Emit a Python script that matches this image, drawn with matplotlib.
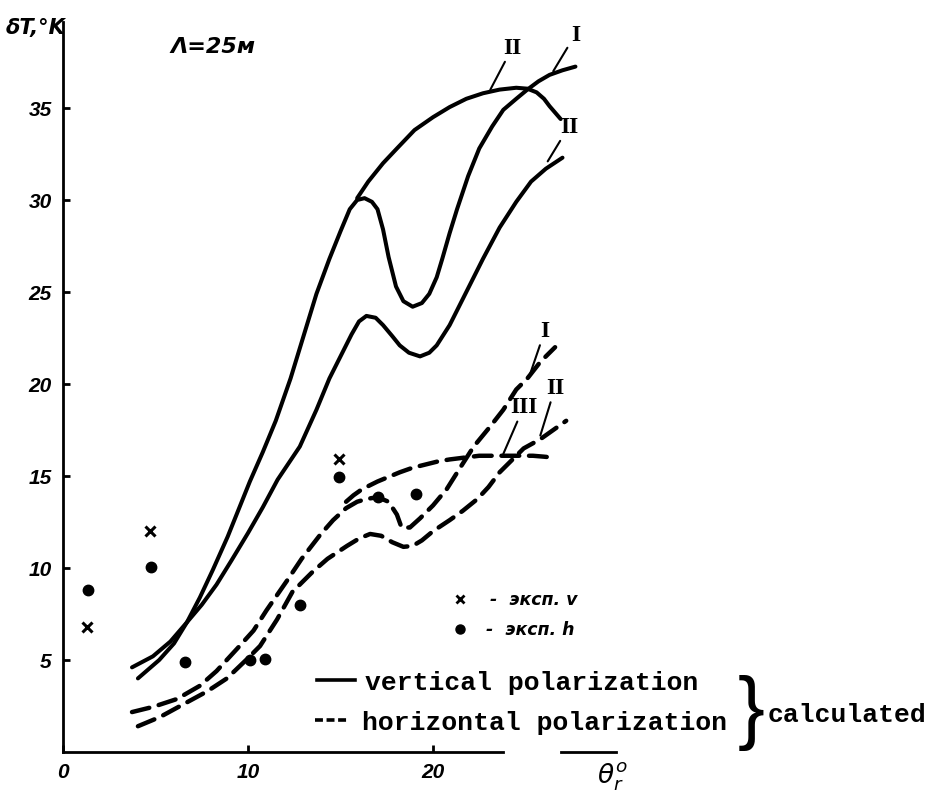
import matplotlib
matplotlib.use("Agg")
import matplotlib.pyplot as plt
from matplotlib.lines import Line2D

# ---------------- data ----------------
# solid curves: vertical polarization
vI_x = [4.05, 5.2, 6.0, 6.7, 7.4, 8.1, 8.9, 9.5, 10.1, 10.8, 11.5, 12.3, 13.0, 13.7,
        14.4, 15.0, 15.5, 15.9, 16.3, 16.7, 17.0, 17.3, 17.6, 18.0, 18.4, 18.9, 19.4,
        19.8, 20.2, 20.5, 20.9, 21.3, 21.9, 22.5, 23.2, 23.8, 24.5, 25.1, 25.7, 26.3,
        27.0, 27.7]
vI_y = [4.0, 5.0, 5.9, 7.05, 8.4, 9.9, 11.7, 13.2, 14.7, 16.3, 18.0, 20.3, 22.6, 24.9,
        26.8, 28.3, 29.5, 30.0, 30.1, 29.9, 29.5, 28.4, 26.9, 25.3, 24.5, 24.2, 24.4,
        24.9, 25.8, 26.8, 28.2, 29.5, 31.3, 32.8, 34.0, 34.9, 35.5, 36.0, 36.45, 36.8,
        37.05, 37.25]

vIIa_x = [15.9, 16.5, 17.3, 18.05, 19.0, 20.0, 20.9, 21.8, 22.7, 23.6, 24.5, 25.1,
          25.6, 26.0, 26.3, 26.6, 26.9]
vIIa_y = [30.1, 31.0, 32.0, 32.8, 33.8, 34.5, 35.05, 35.5, 35.8, 36.0, 36.1, 36.05,
          35.85, 35.5, 35.1, 34.75, 34.4]

vIIb_x = [3.73, 4.86, 5.8, 6.7, 7.5, 8.3, 9.1, 10.0, 10.8, 11.6, 12.2, 12.8, 13.7,
          14.4, 15.0, 15.6, 16.0, 16.4, 16.9, 17.3, 17.8, 18.2, 18.7, 19.3, 19.8,
          20.2, 20.9, 21.8, 22.7, 23.6, 24.5, 25.3, 26.1, 27.0]
vIIb_y = [4.6, 5.2, 6.0, 7.05, 8.0, 9.1, 10.4, 11.9, 13.3, 14.8, 15.7, 16.6, 18.6,
          20.3, 21.5, 22.7, 23.4, 23.7, 23.6, 23.2, 22.6, 22.1, 21.7, 21.5, 21.7,
          22.1, 23.2, 25.0, 26.8, 28.5, 29.9, 31.0, 31.7, 32.3]

# dashed curves: horizontal polarization
hI_x = [3.73, 4.86, 6.16, 7.4, 8.3, 9.4, 10.3, 11.0, 12.1, 12.9, 13.9, 14.6, 15.3,
        15.9, 16.4, 17.0, 17.6, 18.05, 18.3, 18.75, 19.3, 20.0, 20.75, 21.5, 22.2,
        23.1, 23.8, 24.5, 25.1, 25.8, 26.6]
hI_y = [2.17, 2.45, 2.88, 3.6, 4.4, 5.6, 6.6, 7.7, 9.3, 10.5, 11.8, 12.6, 13.25,
        13.6, 13.75, 13.85, 13.6, 12.9, 12.2, 12.2, 12.7, 13.4, 14.3, 15.5, 16.6,
        17.7, 18.6, 19.7, 20.3, 21.2, 22.0]

hII_x = [4.05, 5.24, 6.7, 7.8, 8.86, 9.95, 10.65, 11.57, 12.4, 13.5, 14.3, 15.35,
         16.0, 16.6, 17.2, 17.8, 18.4, 18.9, 19.4, 20.0, 20.9, 21.6, 22.4, 23.0,
         23.6, 24.3, 24.9, 25.8, 26.5, 27.2]
hII_y = [1.4, 1.9, 2.7, 3.3, 4.0, 5.05, 5.76, 7.2, 8.7, 9.8, 10.5, 11.2,
         11.6, 11.85, 11.75, 11.4, 11.15, 11.2, 11.5, 12.0, 12.6, 13.1, 13.75, 14.4,
         15.2, 15.9, 16.5, 17.0, 17.5, 18.0]

hIII_x = [15.3, 15.7, 16.05, 16.5, 17.0, 17.6, 18.2, 18.9, 19.7, 20.3, 20.9, 21.7,
          22.5, 23.2, 24.0, 24.7, 25.4, 26.0, 26.5]
hIII_y = [13.6, 13.95, 14.2, 14.45, 14.7, 14.95, 15.2, 15.45, 15.65, 15.8, 15.9, 16.0,
          16.1, 16.1, 16.1, 16.1, 16.1, 16.05, 16.0]

# experimental points
exp_v_x = [1.3, 4.7, 14.9]
exp_v_y = [6.8, 12.0, 15.9]
exp_h_x = [1.35, 4.75, 6.6, 10.1, 10.9, 12.8, 14.9, 17.0, 19.1]
exp_h_y = [8.8, 10.05, 4.9, 5.0, 5.05, 8.0, 14.95, 13.85, 14.0]

# curve labels: (text, label position, point on curve)
curve_labels = [
    ("II", (24.3, 38.3), (23.1, 36.0)),
    ("I", (27.7, 39.0), (26.5, 37.0)),
    ("II", (27.35, 34.0), (26.2, 32.1)),
    ("I", (26.05, 22.9), (25.2, 20.4)),
    ("III", (24.9, 18.75), (23.8, 16.2)),
    ("II", (26.6, 19.8), (25.8, 17.2)),
]

x_ticks = [0, 10, 20]
y_ticks = [5, 10, 15, 20, 25, 30, 35]

# ---------------- figure ----------------
W, H = 937, 803
fig = plt.figure(figsize=(W / 100, H / 100), dpi=100)
fig.patch.set_facecolor("white")

def fx(px):
    return px / W

def fy(py):
    return 1 - py / H

ax = fig.add_axes([fx(63), fy(753), fx(581) - fx(63), fy(17) - fy(753)])
ax.set_xlim(0, 28)
ax.set_ylim(0, 40)

lw = 2.9
solid_kw = dict(color="black", lw=lw, solid_capstyle="round", solid_joinstyle="round")
dash_kw = dict(color="black", lw=lw + 0.3, linestyle=(0, (4.0, 2.2)), dash_capstyle="round")

ax.plot(vI_x, vI_y, **solid_kw)
ax.plot(vIIa_x, vIIa_y, **solid_kw)
ax.plot(vIIb_x, vIIb_y, **solid_kw)
ax.plot(hI_x, hI_y, **dash_kw)
ax.plot(hII_x, hII_y, **dash_kw)
ax.plot(hIII_x, hIII_y, **dash_kw)

ax.plot(exp_v_x, exp_v_y, linestyle="none", marker="x", ms=6.5, mew=2.2, color="black")
ax.plot(exp_h_x, exp_h_y, linestyle="none", marker="o", ms=7.5, color="black")

for txt, tpos, cpos in curve_labels:
    ax.annotate(txt, xy=cpos, xytext=tpos, ha="center", va="center",
                fontsize=17, fontweight="bold", family="Liberation Serif",
                annotation_clip=False,
                arrowprops=dict(arrowstyle="-", lw=1.5, color="black",
                                shrinkA=1, shrinkB=0))

# axes styling
for s in ("top", "right"):
    ax.spines[s].set_visible(False)
for s in ("left", "bottom"):
    ax.spines[s].set_linewidth(2.0)
ax.spines["left"].set_bounds(0, 39.7)
ax.spines["bottom"].set_bounds(0, 23.8)

ax.set_xticks(x_ticks)
ax.set_xticklabels([str(v) for v in x_ticks])
ax.set_yticks(y_ticks)
ax.set_yticklabels([str(v) for v in y_ticks])
ax.tick_params(axis="both", direction="in", length=5, width=2.0, labelsize=15)
ax.tick_params(axis="y", pad=8)
ax.tick_params(axis="x", pad=7)
for lab in ax.get_xticklabels() + ax.get_yticklabels():
    lab.set_fontweight("bold")
    lab.set_fontstyle("italic")
    lab.set_family("Liberation Sans")

# short axis piece near the theta label
ax.plot([26.9, 29.9], [0, 0], color="black", lw=2.0, clip_on=False)

# texts
ital = dict(fontweight="bold", fontstyle="italic", family="DejaVu Sans")
fig.text(fx(36), fy(28), "δT,°K", ha="center", va="center", fontsize=15, **ital)
fig.text(fx(213), fy(47), "Λ=25м", ha="center", va="center", fontsize=16, **ital)
fig.text(fx(612), fy(777), r"$\theta^{o}_{r}$", ha="center", va="center", fontsize=19)

# experimental legend
fig.add_artist(Line2D([fx(460)], [fy(600)], marker="x", ms=5.5, mew=2.0,
                      color="black", transform=fig.transFigure))
fig.add_artist(Line2D([fx(460)], [fy(630)], marker="o", ms=6.5,
                      color="black", transform=fig.transFigure))
fig.text(fx(490), fy(600), "-  эксп. v", ha="left", va="center", fontsize=12.5, **ital)
fig.text(fx(486), fy(630), "-  эксп. h", ha="left", va="center", fontsize=12.5, **ital)

# calculated legend
mono = dict(family="Liberation Mono", fontweight="bold", fontsize=19)
fig.add_artist(Line2D([fx(317), fx(355)], [fy(681), fy(681)], lw=2.6,
                      color="black", transform=fig.transFigure))
fig.add_artist(Line2D([fx(315), fx(348)], [fy(721), fy(721)], lw=2.6,
                      linestyle=(0, (2.2, 1.0)), color="black", transform=fig.transFigure))
fig.text(fx(365), fy(690), "vertical polarization", ha="left", va="baseline", **mono)
fig.text(fx(362), fy(730), "horizontal polarization", ha="left", va="baseline", **mono)
fig.text(fx(751), fy(713), "}", ha="center", va="center", fontsize=58,
         family="Liberation Sans")
fig.text(fx(768), fy(722), "calculated", ha="left", va="baseline", **mono)

fig.savefig("out.png", dpi=100, facecolor="white")
